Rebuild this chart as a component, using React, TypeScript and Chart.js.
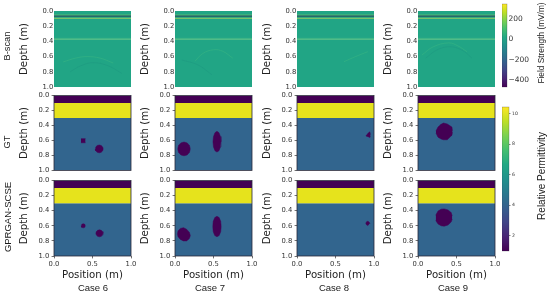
import React, { useEffect, useRef } from "react";
import Chart from "chart.js/auto";

const caseNames = ["Case 6", "Case 7", "Case 8", "Case 9"];
const rowNames = ["B-scan", "GT", "GPRGAN-SCSE"];
const panelLefts = [54, 175, 297, 418];
const panelTops = [11, 95, 180];
const panelWidth = 77;
const panelHeight = 76;

const viridis = ["#440154", "#482475", "#414487", "#355f8d", "#2a788e", "#21918c", "#22a884", "#44bf70", "#7ad151", "#bddf26", "#fde725"];

// Soil layers: boundaries in depth and colours between them
const layerDepths = [0, 0.1, 0.3, 1];
const layerColors = ["#440154", "#e6e31c", "#32658e"];
const voidColor = "#440154";

// Inclusion outlines: [position, top depth, bottom depth]
const gtCase6 = [
  [[0.35, 0.575, 0.63], [0.41, 0.575, 0.63]],
  [[0.535, 0.712, 0.712], [0.542, 0.686, 0.738], [0.561, 0.667, 0.757], [0.587, 0.66, 0.764], [0.613, 0.667, 0.757], [0.632, 0.686, 0.738], [0.639, 0.712, 0.712]],
];
const gtCase7 = [
  [[0.035, 0.712, 0.712], [0.046, 0.666, 0.758], [0.076, 0.632, 0.792], [0.117, 0.62, 0.804], [0.158, 0.632, 0.792], [0.188, 0.666, 0.758], [0.199, 0.712, 0.712]],
  [[0.493, 0.616, 0.616], [0.5, 0.547, 0.685], [0.519, 0.496, 0.736], [0.545, 0.478, 0.754], [0.571, 0.496, 0.736], [0.59, 0.547, 0.685], [0.597, 0.616, 0.616]],
];
const gtCase8 = [
  [[0.895, 0.54, 0.54], [0.925, 0.5, 0.55], [0.945, 0.485, 0.56], [0.955, 0.52, 0.55]],
];
const gtCase9 = [
  [[0.233, 0.475, 0.5], [0.26, 0.42, 0.555], [0.3, 0.385, 0.58], [0.33, 0.367, 0.59], [0.38, 0.38, 0.59], [0.44, 0.42, 0.53], [0.449, 0.47, 0.49]],
];
const genCase6 = [
  [[0.353, 0.6, 0.6], [0.36, 0.58, 0.62], [0.38, 0.573, 0.627], [0.4, 0.58, 0.62], [0.407, 0.6, 0.6]],
  [[0.544, 0.7, 0.7], [0.55, 0.677, 0.723], [0.567, 0.66, 0.74], [0.59, 0.654, 0.746], [0.613, 0.66, 0.74], [0.63, 0.677, 0.723], [0.636, 0.7, 0.7]],
];
const genCase7 = [
  [[0.03, 0.71, 0.71], [0.04, 0.665, 0.745], [0.07, 0.635, 0.78], [0.11, 0.625, 0.8], [0.15, 0.645, 0.8], [0.185, 0.685, 0.77], [0.2, 0.73, 0.73]],
  [[0.49, 0.61, 0.61], [0.497, 0.54, 0.68], [0.517, 0.49, 0.73], [0.545, 0.475, 0.745], [0.573, 0.49, 0.73], [0.593, 0.54, 0.68], [0.6, 0.61, 0.61]],
];
const genCase8 = [
  [[0.893, 0.566, 0.566], [0.905, 0.545, 0.59], [0.92, 0.54, 0.595], [0.935, 0.55, 0.58], [0.947, 0.566, 0.566]],
];
const genCase9 = [
  [[0.23, 0.46, 0.53], [0.26, 0.405, 0.575], [0.3, 0.38, 0.6], [0.34, 0.376, 0.605], [0.39, 0.39, 0.59], [0.43, 0.425, 0.55], [0.445, 0.47, 0.51]],
];

// B-scan: background field and horizontal reflections
const bscanGreen = "#21a585";
const reflectionDepths = [0.052, 0.066, 0.096, 0.345, 0.37];
const reflectionColors = ["#5fbd72", "#2b2f55", "#93c963", "#2aa986", "#78d08a"];
const reflectionWidths = [0.8, 1.2, 1, 0.7, 0.9];

// B-scan hyperbolas: [position, depth]
const arcCase6 = [
  [[0.12, 0.67], [0.28, 0.62], [0.43, 0.6], [0.6, 0.62], [0.77, 0.685]],
  [[0.21, 0.8], [0.35, 0.72], [0.51, 0.68], [0.7, 0.72], [0.88, 0.82]],
];
const arcCase7 = [
  [[0.26, 0.66], [0.36, 0.56], [0.5, 0.51], [0.62, 0.53], [0.75, 0.62]],
  [[0.09, 0.645], [0.3, 0.71], [0.48, 0.84]],
];
const arcCase8 = [
  [[0.61, 0.667], [0.76, 0.6], [0.92, 0.535]],
];
const arcCase9 = [
  [[0.05, 0.58], [0.2, 0.47], [0.4, 0.42], [0.52, 0.46], [0.636, 0.536]],
  [[0.1, 0.62], [0.25, 0.51], [0.42, 0.47], [0.58, 0.52], [0.7, 0.62]],
];
const arcColors = ["rgba(70,190,130,0.45)", "rgba(24,140,125,0.35)"];

const gtShapes = [gtCase6, gtCase7, gtCase8, gtCase9];
const genShapes = [genCase6, genCase7, genCase8, genCase9];
const arcs = [arcCase6, arcCase7, arcCase8, arcCase9];

const fieldRange = [-469, 347];
const fieldTicks = [-400, -200, 0, 200];
const permRange = [1, 10.44];
const permTicks = [2, 4, 6, 8, 10];
const depthLabel = "Depth (m)";
const positionLabel = "Position (m)";
const fieldLabel = "Field Strength (mV/m)";
const permLabel = "Relative Permittivity";

const band = (from: number, to: number, color: string) => [
  { type: "line", data: [{ x: 0, y: from }, { x: 1, y: from }], fill: "+1", backgroundColor: color, borderWidth: 0, pointRadius: 0 },
  { type: "line", data: [{ x: 0, y: to }, { x: 1, y: to }], fill: false, borderWidth: 0, pointRadius: 0 },
];

const shapeSets = (shapes: number[][][]) =>
  shapes.flatMap((s) => [
    { data: s.map((p) => ({ x: p[0], y: p[1] })), fill: "+1", backgroundColor: voidColor, borderColor: voidColor, borderWidth: 0.5, pointRadius: 0 },
    { data: s.map((p) => ({ x: p[0], y: p[2] })), fill: false, borderColor: voidColor, borderWidth: 0.5, pointRadius: 0 },
  ]);

const bscanSets = (col: number) => [
  ...reflectionDepths.map((d, i) => ({
    data: [{ x: 0, y: d }, { x: 1, y: d }],
    borderColor: reflectionColors[i],
    borderWidth: reflectionWidths[i],
    pointRadius: 0,
    fill: false,
  })),
  ...arcs[col].map((a, i) => ({
    data: a.map((p) => ({ x: p[0], y: p[1] })),
    borderColor: arcColors[i % 2],
    borderWidth: 0.8,
    tension: 0.4,
    pointRadius: 0,
    fill: false,
  })),
  ...band(0, 1, bscanGreen),
];

const permSets = (shapes: number[][][]) => [
  ...shapeSets(shapes),
  ...layerColors.flatMap((c, i) => band(layerDepths[i], layerDepths[i + 1], c)),
];

const frame = (color: string, width: number) => ({
  id: "frame",
  afterDraw(chart: any) {
    const a = chart.chartArea;
    const c = chart.ctx;
    c.save();
    c.strokeStyle = color;
    c.lineWidth = width;
    c.strokeRect(a.left, a.top, a.right - a.left, a.bottom - a.top);
    c.restore();
  },
});

const tickFont = { family: "DejaVu Sans", size: 6.8 };
const titleFont = { family: "DejaVu Sans", size: 10.2 };
const L = 40;
const T = 6;
const R = 10;

function Panel({ row, col }: { row: number; col: number }) {
  const ref = useRef<HTMLCanvasElement>(null);
  const B = row === 2 ? 27 : 6;
  useEffect(() => {
    const datasets = row === 0 ? bscanSets(col) : permSets(row === 1 ? gtShapes[col] : genShapes[col]);
    const chart = new Chart(ref.current as any, {
      type: "line",
      data: { datasets: datasets as any },
      options: {
        animation: false,
        responsive: false,
        devicePixelRatio: 1,
        layout: { padding: { top: T, right: R, bottom: row === 2 ? 0 : B, left: 0 } },
        plugins: { legend: { display: false }, title: { display: false }, tooltip: { enabled: false } },
        scales: {
          x: {
            type: "linear",
            min: 0,
            max: 1,
            display: row === 2,
            border: { display: false },
            grid: { display: true, drawOnChartArea: false, drawTicks: true, tickLength: 2.4, color: "#333", lineWidth: 0.7 },
            ticks: { stepSize: 0.5, maxRotation: 0, padding: 1.8, color: "#333", font: tickFont, callback: (v: number) => v.toFixed(1) },
            title: { display: true, text: positionLabel, color: "#222", font: titleFont, padding: { top: 0, bottom: 1.6 } },
            afterFit: (s: any) => { s.height = row === 2 ? 27 : 0; },
          },
          y: {
            type: "linear",
            min: 0,
            max: 1,
            reverse: true,
            border: { display: false },
            grid: { display: true, drawOnChartArea: false, drawTicks: row !== 0, tickLength: row === 0 ? 0 : 2.4, color: "#333", lineWidth: 0.7 },
            ticks: { stepSize: 0.2, autoSkip: false, padding: row === 0 ? 0.8 : 2.4, color: "#333", font: tickFont, callback: (v: number) => v.toFixed(1) },
            title: { display: true, text: depthLabel, color: "#222", font: titleFont, padding: { top: 3.9, bottom: 0 } },
            afterFit: (s: any) => { s.width = L; },
          },
        },
      } as any,
      plugins: [frame(row === 0 ? "rgba(0,0,0,0)" : "#2a2a3a", 0.8)],
    });
    return () => chart.destroy();
  }, [row, col]);
  return (
    <canvas
      ref={ref}
      width={L + panelWidth + R}
      height={T + panelHeight + B}
      style={{ position: "absolute", left: panelLefts[col] - L, top: panelTops[row] - T, display: "block" }}
    />
  );
}

function ColorBar({ left, top, w, h, range, ticks, size, tickLen }: any) {
  const ref = useRef<HTMLCanvasElement>(null);
  const TT = 8;
  const RR = 30;
  useEffect(() => {
    const chart = new Chart(ref.current as any, {
      type: "bar",
      data: {
        labels: ["c"],
        datasets: [
          {
            data: [range],
            barPercentage: 1,
            categoryPercentage: 1,
            backgroundColor: (ctx: any) => {
              const a = ctx.chart.chartArea;
              if (!a) return viridis[5];
              const g = ctx.chart.ctx.createLinearGradient(0, a.bottom, 0, a.top);
              viridis.forEach((c, i) => g.addColorStop(i / (viridis.length - 1), c));
              return g;
            },
          },
        ],
      },
      options: {
        animation: false,
        responsive: false,
        devicePixelRatio: 1,
        layout: { padding: { top: TT, bottom: TT, left: 0, right: 0 } },
        plugins: { legend: { display: false }, title: { display: false }, tooltip: { enabled: false } },
        scales: {
          x: { display: false, afterFit: (s: any) => { s.height = 0; } },
          y: {
            type: "linear",
            position: "right",
            min: range[0],
            max: range[1],
            border: { display: false },
            grid: { display: true, drawOnChartArea: false, drawTicks: true, tickLength: tickLen, color: "#333", lineWidth: 0.6 },
            afterBuildTicks: (s: any) => { s.ticks = ticks.map((value: number) => ({ value })); },
            ticks: {
              padding: 1.5,
              color: "#333",
              font: { family: "DejaVu Sans", size },
              callback: (v: number) => String(v).replace("-", "\u2212"),
            },
            afterFit: (s: any) => { s.width = RR; },
          },
        },
      } as any,
      plugins: [frame("rgba(40,40,60,0.5)", 0.5)],
    });
    return () => chart.destroy();
  }, []);
  return (
    <canvas
      ref={ref}
      width={w + RR}
      height={h + TT * 2}
      style={{ position: "absolute", left, top: top - TT, display: "block" }}
    />
  );
}

function Label({ x, y, text, size, rotate }: any) {
  return (
    <div
      style={{
        position: "absolute",
        left: x,
        top: y,
        transform: `translate(-50%,-50%)${rotate ? " rotate(-90deg)" : ""}`,
        fontFamily: "'Liberation Sans', sans-serif",
        fontSize: size,
        color: "#1a1a1a",
        whiteSpace: "nowrap",
        lineHeight: 1,
      }}
    >
      {text}
    </div>
  );
}

const rowLabelY = [46, 142, 217];
const caseLabelX = [93, 210, 334, 453];

export default function App() {
  return (
    <div style={{ position: "absolute", left: 0, top: 0, width: 550, height: 294, overflow: "hidden", background: "#fff" }}>
      {rowNames.map((_, r) => caseNames.map((_, c) => <Panel key={`${r}-${c}`} row={r} col={c} />))}
      <ColorBar left={502} top={4} w={5} h={83} range={fieldRange} ticks={fieldTicks} size={7.5} tickLen={0} />
      <ColorBar left={502} top={107} w={7} h={144} range={permRange} ticks={permTicks} size={4.6} tickLen={1.5} />
      {rowNames.map((t, i) => <Label key={t} x={8} y={rowLabelY[i]} text={t} size={i === 2 ? 9.5 : 9.3} rotate />)}
      {caseNames.map((t, i) => <Label key={t} x={caseLabelX[i]} y={288} text={t} size={9.5} />)}
      <Label x={541} y={43} text={fieldLabel} size={8.3} rotate />
      <Label x={541.5} y={176} text={permLabel} size={10} rotate />
    </div>
  );
}
